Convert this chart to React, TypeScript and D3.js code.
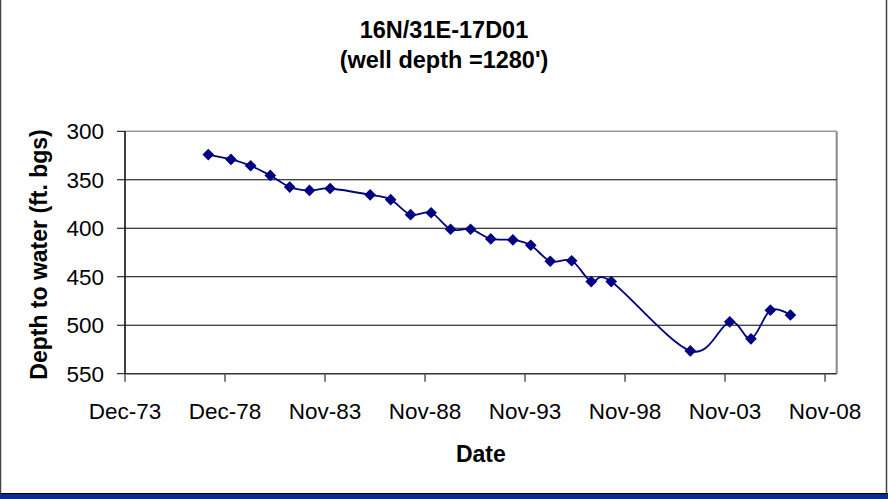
import * as d3 from 'd3';

const W = 888;
const H = 499;

// measurement dates and depth to water (ft. below ground surface)
const dates = [
  '1978-01-30', '1979-03-20', '1980-03-13', '1981-03-07', '1982-02-24',
  '1983-02-20', '1984-03-03', '1986-03-03', '1987-03-13', '1988-03-10',
  '1989-03-20', '1990-03-10', '1991-03-10', '1992-03-13', '1993-04-20',
  '1994-03-13', '1995-03-03', '1996-03-28', '1997-03-20', '1998-03-20',
  '2002-03-03', '2004-02-20', '2005-03-13', '2006-03-03', '2007-03-03',
];
const depths = [
  324, 329, 335.5, 345.5, 357.5,
  361, 359, 365.5, 370.5, 386,
  384, 401, 401, 411, 412,
  417.5, 434, 433.5, 455, 455,
  526.5, 496.5, 514, 484.5, 489.5,
];

const xTickDates = [
  '1973-12-02', '1978-12-01', '1983-11-30', '1988-11-29',
  '1993-11-28', '1998-11-27', '2003-11-26', '2008-11-24',
];
const xTickLabels = ['Dec-73', 'Dec-78', 'Nov-83', 'Nov-88', 'Nov-93', 'Nov-98', 'Nov-03', 'Nov-08'];
const yTicks = [300, 350, 400, 450, 500, 550];

const parse = d3.utcParse('%Y-%m-%d');
const font = "'Liberation Sans', Arial, sans-serif";

export default function App() {
  const left = 125;
  const right = 836.7;
  const top = 131.3;
  const bottom = 373.7;

  const x = d3
    .scaleUtc()
    .domain([parse('1973-12-02')!, parse('2009-06-25')!])
    .range([left, right]);
  const y = d3.scaleLinear().domain([300, 550]).range([top, bottom]);

  const pts = dates.map((d, i) => [x(parse(d)!), y(depths[i])] as [number, number]);
  const line = d3.line().curve(d3.curveCardinal.tension(0));
  const diamond = d3.symbol(d3.symbolSquare, 68)();

  return (
    <svg
      width={W}
      height={H}
      style={{ position: 'absolute', left: 0, top: 0, background: '#fff' }}
      fontFamily={font}
    >
      <rect x={0} y={0} width={W} height={H} fill='#fff' />
      {/* outer frame */}
      <line x1={0.5} y1={0} x2={0.5} y2={494} stroke='#444' strokeWidth={1.5} />
      <line x1={886.5} y1={0} x2={886.5} y2={494} stroke='#444' strokeWidth={1.5} />
      <line x1={0} y1={493.5} x2={W} y2={493.5} stroke='#000' />
      <rect x={0} y={494} width={W} height={5} fill='#0c2c8c' />

      {/* title */}
      <text x={444} y={38} textAnchor='middle' fontWeight='bold' fontSize={23.5}>
        16N/31E-17D01
      </text>
      <text x={444} y={68} textAnchor='middle' fontWeight='bold' fontSize={23.5}>
        (well depth =1280')
      </text>

      {/* plot frame and grid */}
      <line x1={left} y1={top} x2={right} y2={top} stroke='#999' strokeWidth={1.5} />
      <line x1={right} y1={top} x2={right} y2={bottom} stroke='#888' strokeWidth={2} />
      {yTicks.slice(1, -1).map((t) => (
        <line key={t} x1={left} x2={right} y1={y(t)} y2={y(t)} stroke='#000' strokeWidth={1} />
      ))}
      <line x1={left} y1={bottom} x2={right} y2={bottom} stroke='#333' strokeWidth={1.5} />
      <line x1={left} y1={top} x2={left} y2={bottom} stroke='#000' strokeWidth={1.5} />

      {/* y axis */}
      {yTicks.map((t) => (
        <g key={t}>
          <line x1={left - 8} x2={left} y1={y(t)} y2={y(t)} stroke='#000' />
          <text x={104} y={y(t)} dy='0.36em' textAnchor='end' fontSize={22.5}>
            {t}
          </text>
        </g>
      ))}
      <text
        transform={`translate(47,${(top + bottom) / 2 + 2}) rotate(-90)`}
        textAnchor='middle'
        fontWeight='bold'
        fontSize={23}
      >
        Depth to water (ft. bgs)
      </text>

      {/* x axis */}
      {xTickDates.map((d, i) => {
        const tx = x(parse(d)!);
        return (
          <g key={d}>
            <line x1={tx} x2={tx} y1={bottom} y2={bottom + 8} stroke='#555' strokeWidth={1.5} />
            <text x={tx} y={419} textAnchor='middle' fontSize={22.5}>
              {xTickLabels[i]}
            </text>
          </g>
        );
      })}
      <text x={(left + right) / 2} y={462} textAnchor='middle' fontWeight='bold' fontSize={23}>
        Date
      </text>

      {/* series */}
      <path d={line(pts) ?? ''} fill='none' stroke='#000080' strokeWidth={1.8} />
      {pts.map(([px, py], i) => (
        <path key={i} d={diamond ?? ''} transform={`translate(${px},${py}) rotate(45)`} fill='#000080' />
      ))}
    </svg>
  );
}
